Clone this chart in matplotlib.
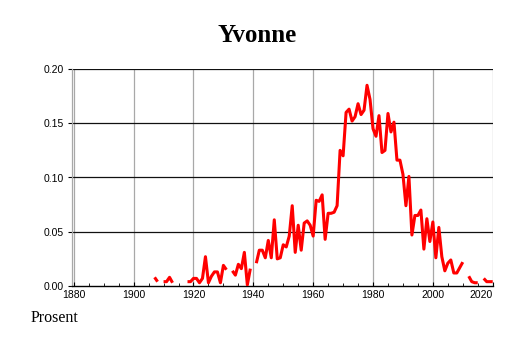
import numpy as np
import matplotlib
matplotlib.use("Agg")
import matplotlib.pyplot as plt
from matplotlib.ticker import MultipleLocator

title = "Yvonne"
ylabel_text = "Prosent"

years = list(range(1907, 2021))
nan = np.nan
values = [
    # 1907-1909
    0.008, 0.004, nan,
    # 1910-1919
    0.004, 0.004, 0.008, 0.003, nan, nan, nan, nan, 0.004, 0.004,
    # 1920-1929
    0.007, 0.007, 0.003, 0.007, 0.027, 0.003, 0.009, 0.013, 0.013, 0.003,
    # 1930-1939
    0.019, 0.015, nan, 0.014, 0.010, 0.020, 0.016, 0.031, 0.001, 0.016,
    # 1940-1949
    nan, 0.021, 0.033, 0.033, 0.026, 0.042, 0.026, 0.061, 0.025, 0.026,
    # 1950-1959
    0.038, 0.036, 0.046, 0.074, 0.031, 0.056, 0.033, 0.058, 0.060, 0.056,
    # 1960-1969
    0.046, 0.079, 0.078, 0.084, 0.043, 0.067, 0.067, 0.068, 0.074, 0.125,
    # 1970-1979
    0.120, 0.160, 0.163, 0.152, 0.156, 0.168, 0.158, 0.162, 0.185, 0.172,
    # 1980-1989
    0.145, 0.138, 0.157, 0.123, 0.125, 0.159, 0.142, 0.151, 0.116, 0.116,
    # 1990-1999
    0.103, 0.074, 0.101, 0.047, 0.065, 0.065, 0.070, 0.034, 0.062, 0.041,
    # 2000-2009
    0.059, 0.026, 0.054, 0.027, 0.014, 0.021, 0.024, 0.012, 0.012, 0.017,
    # 2010-2019
    0.022, nan, 0.009, 0.004, 0.003, 0.003, nan, 0.007, 0.004, 0.004,
    # 2020
    0.004,
]

xticks = list(range(1880, 2021, 20))
yticks = [0.00, 0.05, 0.10, 0.15, 0.20]

fig = plt.figure(figsize=(5.14, 3.43), dpi=100)
ax = fig.add_axes([72 / 514, 1 - 286 / 343, (493 - 72) / 514, (286 - 69) / 343])

ax.plot(years, values, color="#ff0000", lw=2.2, solid_capstyle="butt", zorder=3)

ax.set_xlim(1879.4, 2020.1)
ax.set_ylim(0, 0.20)
ax.set_xticks(xticks)
ax.set_yticks(yticks)
ax.set_yticklabels([f"{v:.2f}" for v in yticks])
ax.xaxis.set_minor_locator(MultipleLocator(5))

for x in xticks:
    ax.axvline(x, color="#a8a8a8", lw=0.9, zorder=1)
for y in yticks[1:]:
    ax.axhline(y, color="#111111", lw=0.9, zorder=2)

for side in ["top", "right"]:
    ax.spines[side].set_visible(False)
ax.spines["left"].set_color("#a8a8a8")
ax.spines["left"].set_linewidth(0.9)
ax.spines["bottom"].set_color("#000000")
ax.spines["bottom"].set_linewidth(1.0)

tick_font = {"family": "Liberation Sans", "size": 7.5}
ax.tick_params(axis="y", direction="out", length=3, width=0.8, pad=3, color="#000000")
ax.tick_params(axis="x", which="major", direction="in", length=3, width=0.8, pad=3)
ax.tick_params(axis="x", which="minor", direction="in", length=2.5, width=0.6)
for lab in ax.get_xticklabels() + ax.get_yticklabels():
    lab.set_fontfamily("Liberation Sans")
    lab.set_fontsize(7.5)
ax.get_xticklabels()[-1].set_horizontalalignment("right")

fig.text(0.5, 1 - 35 / 343, title, ha="center", va="center",
         fontfamily="Liberation Serif", fontweight="bold", fontsize=18)
fig.text(31 / 514, 1 - 318 / 343, ylabel_text, ha="left", va="center",
         fontfamily="Liberation Serif", fontsize=11.5)

fig.savefig("out.png", dpi=100)
